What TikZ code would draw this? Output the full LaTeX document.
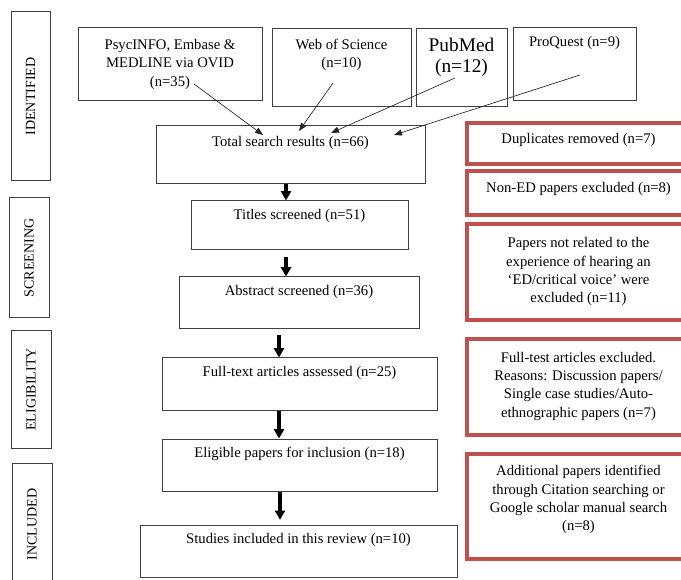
\documentclass[tikz,border=0pt]{standalone}
\usepackage{fontspec}
\setmainfont{Liberation Serif}
\usepackage{xcolor}
\usepackage{tikz}
\usetikzlibrary{arrows.meta}
\definecolor{boxline}{HTML}{404040}
\definecolor{exclred}{HTML}{C0504D}

\begin{document}
\begin{tikzpicture}[x=0.75pt, y=-0.75pt,
    every node/.style={font=\fontsize{11}{13.7}\selectfont},
    box/.style={draw=boxline, line width=0.75pt, inner sep=0pt},
    exclbox/.style={draw=exclred, line width=2.3pt, inner sep=0pt, minimum width=167.25pt},
    stage/.style={box, rotate=90, minimum height=30pt, font=\fontsize{10.5}{12}\selectfont},
    txt/.style={anchor=base, align=center, inner sep=0pt},
    thinarrow/.style={-{Triangle[length=6pt,width=4.5pt]}, line width=0.5pt, black!85},
    thickarrow/.style={-{Triangle[length=7pt,width=7.5pt]}, line width=2.3pt}]
    \useasboundingbox (0,0) rectangle (681,580);

    % stages
    \node[stage, minimum width=126.75pt, minimum height=29.25pt] (ident) at (30.5,96.5) {IDENTIFIED};
    \node[stage, minimum width=90pt] (screen) at (29,258) {SCREENING};
    \node[stage, minimum width=87.75pt] (elig) at (31,389.5) {ELIGIBILITY};
    \node[stage, minimum width=92.25pt] (incl) at (32,524.5) {INCLUDED};

    % sources (base of a multi-line text = its last line)
    \node[box, minimum width=138pt, minimum height=54.75pt] (psyc) at (170,64.5) {};
    \node[box, minimum width=104.25pt, minimum height=58.5pt] (wos) at (341.5,68) {};
    \node[box, minimum width=68.25pt, minimum height=58.5pt] (pubmed) at (461.5,68) {};
    \node[box, minimum width=92.25pt, minimum height=54.75pt] (proquest) at (574.5,64.5) {};
    \node[txt] (psyctxt) at ([yshift=-44pt]psyc.north) {PsycINFO, Embase \&\\MEDLINE via OVID\\(n=35)};
    \node[txt] (wostxt) at ([yshift=-29.6pt]wos.north) {Web of Science\\(n=10)};
    \node[txt, font=\fontsize{14.5}{15.75}\selectfont] (pubmedtxt) at ([yshift=-33.3pt]pubmed.north) {PubMed\\(n=12)};
    \node[txt] (proquesttxt) at ([yshift=-14.6pt]proquest.north) {ProQuest (n=9)};

    % main flow
    \node[box, minimum width=201.75pt, minimum height=43.5pt] (total) at (290.5,155) {};
    \node[box, minimum width=162.75pt, minimum height=36.75pt] (titles) at (299.5,225.5) {};
    \node[box, minimum width=180pt, minimum height=39pt] (abstract) at (299,303) {};
    \node[box, minimum width=206.25pt, minimum height=39pt] (full) at (299.5,384) {};
    \node[box, minimum width=206.25pt, minimum height=39pt] (eligible) at (299.5,465) {};
    \node[box, minimum width=237.75pt, minimum height=39pt] (studies) at (298.5,551) {};
    \node[txt] (totaltxt) at ([yshift=-15.4pt]total.north) {Total search results (n=66)};
    \node[txt] (titlestxt) at ([yshift=-14.6pt]titles.north) {Titles screened (n=51)};
    \node[txt] (abstracttxt) at ([yshift=-14.6pt]abstract.north) {Abstract screened (n=36)};
    \node[txt] (fulltxt) at ([yshift=-14.6pt]full.north) {Full-text articles assessed (n=25)};
    \node[txt] (eligibletxt) at ([yshift=-14.6pt]eligible.north) {Eligible papers for inclusion (n=18)};
    \node[txt] (studiestxt) at ([yshift=-14.6pt]studies.north) {Studies included in this review (n=10)};

    % exclusions
    \node[exclbox, minimum height=30.75pt] (dup) at (578.5,143.5) {};
    \node[exclbox, minimum height=33pt] (noned) at (578.5,193) {};
    \node[exclbox, minimum height=72pt] (notrel) at (578.5,272) {};
    \node[exclbox, minimum height=72pt] (fulltest) at (578.5,387) {};
    \node[exclbox, minimum height=78.75pt] (addit) at (578.5,506.5) {};
    \node[txt] (duptxt) at ([yshift=-16.6pt]dup.north) {Duplicates removed (n=7)};
    \node[txt] (nonedtxt) at ([yshift=-17.4pt]noned.north) {Non-ED papers excluded (n=8)};
    \node[txt] (notreltxt) at ([yshift=-60.2pt]notrel.north) {Papers not related to the\\experience of hearing an\\‘ED/critical voice’ were\\excluded (n=11)};
    \node[txt] (fulltesttxt) at ([yshift=-59.8pt]fulltest.north) {Full-test articles excluded.\\Reasons: Discussion papers/\\Single case studies/Auto-\\ethnographic papers (n=7)};
    \node[txt] (addittxt) at ([yshift=-58.7pt]addit.north) {Additional papers identified\\through Citation searching or\\Google scholar manual search\\(n=8)};

    % arrows into total
    \coordinate (psycout) at (194,84);
    \coordinate (wosout) at (333,83);
    \coordinate (pubmedout) at (455,78);
    \coordinate (proquestout) at (580,75);
    \coordinate (psycin) at (263,135);
    \coordinate (wosin) at (299,131);
    \coordinate (pubmedin) at (331,133);
    \coordinate (proquestin) at (394,135);
    \draw[thinarrow] (psycout) -- (psycin);
    \draw[thinarrow] (wosout) -- (wosin);
    \draw[thinarrow] (pubmedout) -- (pubmedin);
    \draw[thinarrow] (proquestout) -- (proquestin);

    % flow arrows
    \draw[thickarrow] (total.south -| 286,0) -- (titles.north -| 286,0);
    \draw[thickarrow, shorten <=5pt] (titles.south -| 286,0) -- (abstract.north -| 286,0);
    \draw[thickarrow, shorten <=4.5pt] (abstract.south -| 279,0) -- (full.north -| 279,0);
    \draw[thickarrow] (full.south -| 279,0) -- (eligible.north -| 279,0);
    \draw[thickarrow, shorten >=3.5pt] (eligible.south -| 280,0) -- (studies.north -| 280,0);
\end{tikzpicture}
\end{document}
